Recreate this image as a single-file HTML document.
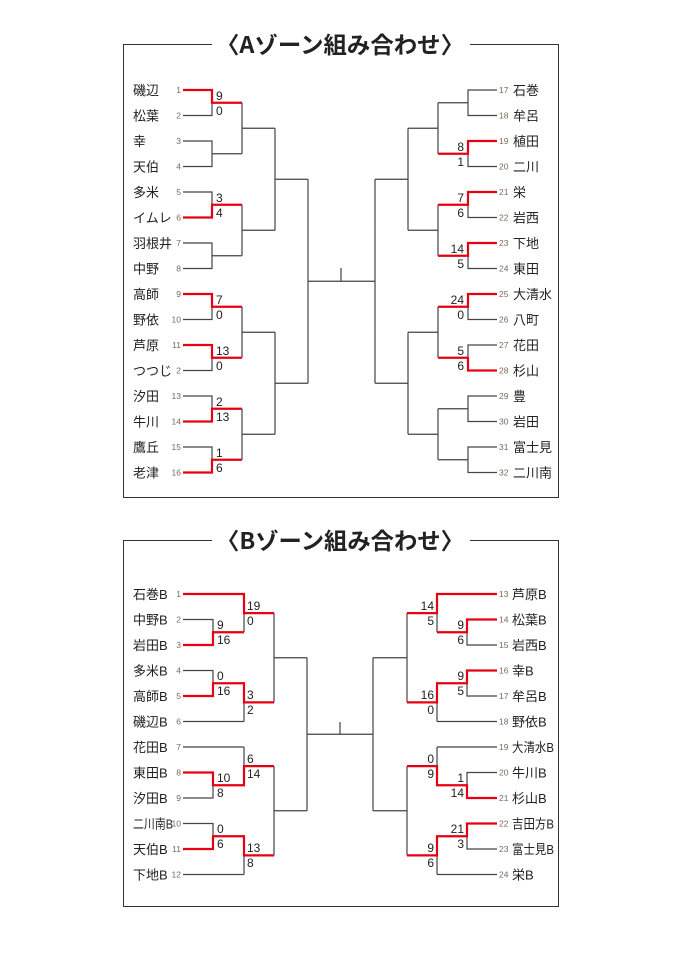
<!DOCTYPE html>
<html><head><meta charset="utf-8"><style>
html,body{margin:0;padding:0;background:#fff;}
svg{display:block;}
text{font-family:"Liberation Sans","Noto Sans CJK JP",sans-serif;}
.n{font-size:13px;fill:#222;}
.k{font-size:8.5px;fill:#7a6a5a;font-family:"Liberation Serif",serif;}
.s{font-size:12px;fill:#222;}
.t{font-size:23px;font-weight:bold;fill:#222;font-family:"Noto Sans CJK JP",sans-serif;}
.b{fill:none;stroke:#444;stroke-width:1.2;}
.r{fill:none;stroke:#e60012;stroke-width:2.2;}
</style></head><body>
<svg width="682" height="954" viewBox="0 0 682 954" xmlns="http://www.w3.org/2000/svg">
<rect x="123.5" y="44.5" width="435" height="453" fill="none" stroke="#333" stroke-width="1"/>
<rect x="212" y="30" width="258" height="30" fill="#fff"/>
<text class="t" x="340" y="53" text-anchor="middle" textLength="248" lengthAdjust="spacingAndGlyphs">〈Aゾーン組み合わせ〉</text>
<rect x="123.5" y="540.5" width="435" height="366" fill="none" stroke="#333" stroke-width="1"/>
<rect x="212" y="526" width="258" height="30" fill="#fff"/>
<text class="t" x="340" y="549" text-anchor="middle" textLength="248" lengthAdjust="spacingAndGlyphs">〈Bゾーン組み合わせ〉</text>

<path class="b" d="M183 90H212V115.5H183M212 102.75H242
M183 141H212V166.5H183M212 153.75H242
M183 192H212V217.5H183M212 204.75H242
M183 243H212V268.5H183M212 255.75H242
M183 294H212V319.5H183M212 306.75H242
M183 345H212V370.5H183M212 357.75H242
M183 396H212V421.5H183M212 408.75H242
M183 447H212V472.5H183M212 459.75H242
M242 102.75V153.75M242 128.25H275M242 204.75V255.75M242 230.25H275
M242 306.75V357.75M242 332.25H275M242 408.75V459.75M242 434.25H275
M275 128.25V230.25M275 179.25H308M275 332.25V434.25M275 383.25H308
M308 179.25V383.25M308 281.25H375M375 179.25V383.25M341 268V281.25
M497 90H468V115.5H497M468 102.75H438
M497 141H468V166.5H497M468 153.75H438
M497 192H468V217.5H497M468 204.75H438
M497 243H468V268.5H497M468 255.75H438
M497 294H468V319.5H497M468 306.75H438
M497 345H468V370.5H497M468 357.75H438
M497 396H468V421.5H497M468 408.75H438
M497 447H468V472.5H497M468 459.75H438
M438 102.75V153.75M438 128.25H408M438 204.75V255.75M438 230.25H408
M438 306.75V357.75M438 332.25H408M438 408.75V459.75M438 434.25H408
M408 128.25V230.25M408 179.25H375M408 332.25V434.25M408 383.25H375"/>
<path class="r" d="M183 90H212V102.75H242M183 217.5H212V204.75H242M183 294H212V306.75H242
M183 345H212V357.75H242M183 421.5H212V408.75H242M183 472.5H212V459.75H242
M497 141H468V153.75H438M497 192H468V204.75H438M497 243H468V255.75H438
M497 294H468V306.75H438M497 370.5H468V357.75H438"/>

<g class="n">
<text x="133" y="95">磯辺</text><text x="133" y="120.5">松葉</text><text x="133" y="146">幸</text><text x="133" y="171.5">天伯</text>
<text x="133" y="197">多米</text><text x="133" y="222.5">イムレ</text><text x="133" y="248">羽根井</text><text x="133" y="273.5">中野</text>
<text x="133" y="299">高師</text><text x="133" y="324.5">野依</text><text x="133" y="350">芦原</text><text x="133" y="375.5">つつじ</text>
<text x="133" y="401">汐田</text><text x="133" y="426.5">牛川</text><text x="133" y="452">鷹丘</text><text x="133" y="477.5">老津</text>
<text x="513" y="95">石巻</text><text x="513" y="120.5">牟呂</text><text x="513" y="146">植田</text><text x="513" y="171.5">二川</text>
<text x="513" y="197">栄</text><text x="513" y="222.5">岩西</text><text x="513" y="248">下地</text><text x="513" y="273.5">東田</text>
<text x="513" y="299">大清水</text><text x="513" y="324.5">八町</text><text x="513" y="350">花田</text><text x="513" y="375.5">杉山</text>
<text x="513" y="401">豊</text><text x="513" y="426.5">岩田</text><text x="513" y="452">富士見</text><text x="513" y="477.5">二川南</text>
</g>
<g class="k" text-anchor="end">
<text x="181" y="93">1</text><text x="181" y="118.5">2</text><text x="181" y="144">3</text><text x="181" y="169.5">4</text>
<text x="181" y="195">5</text><text x="181" y="220.5">6</text><text x="181" y="246">7</text><text x="181" y="271.5">8</text>
<text x="181" y="297">9</text><text x="181" y="322.5">10</text><text x="181" y="348">11</text><text x="181" y="373.5">2</text>
<text x="181" y="399">13</text><text x="181" y="424.5">14</text><text x="181" y="450">15</text><text x="181" y="475.5">16</text>
</g>
<g class="k">
<text x="499" y="93">17</text><text x="499" y="118.5">18</text><text x="499" y="144">19</text><text x="499" y="169.5">20</text>
<text x="499" y="195">21</text><text x="499" y="220.5">22</text><text x="499" y="246">23</text><text x="499" y="271.5">24</text>
<text x="499" y="297">25</text><text x="499" y="322.5">26</text><text x="499" y="348">27</text><text x="499" y="373.5">28</text>
<text x="499" y="399">29</text><text x="499" y="424.5">30</text><text x="499" y="450">31</text><text x="499" y="475.5">32</text>
</g>
<g class="s">
<text x="216" y="100">9</text><text x="216" y="115">0</text>
<text x="216" y="202">3</text><text x="216" y="217">4</text>
<text x="216" y="304">7</text><text x="216" y="319">0</text>
<text x="216" y="355">13</text><text x="216" y="370">0</text>
<text x="216" y="406">2</text><text x="216" y="421">13</text>
<text x="216" y="457">1</text><text x="216" y="472">6</text>
</g>
<g class="s" text-anchor="end">
<text x="464" y="151">8</text><text x="464" y="166">1</text>
<text x="464" y="202">7</text><text x="464" y="217">6</text>
<text x="464" y="253">14</text><text x="464" y="268">5</text>
<text x="464" y="304">24</text><text x="464" y="319">0</text>
<text x="464" y="355">5</text><text x="464" y="370">6</text>
</g>

<path class="b" d="M183 594H244V613.1M183 619.5H213V645H183M213 632.25H244M244 594V632.25M244 613.1H274
M183 670.5H213V696H183M213 683.25H244M244 683.25V721.5M183 721.5H244M244 702.4H274
M274 613.1V702.4M274 657.75H307
M183 747H244M183 772.5H213V798H183M213 785.25H244M244 747V785.25M244 766.1H274
M183 823.5H213V849H183M213 836.25H244M244 836.25V874.5M183 874.5H244M244 855.4H274
M274 766.1V855.4M274 810.75H307M307 657.75V810.75M307 734.25H373M340 722V734.25M373 657.75V810.75
M497 594H437M497 619.5H467V645H497M467 632.25H437M437 594V632.25M437 613.1H407
M497 670.5H467V696H497M467 683.25H437M437 683.25V721.5M497 721.5H437M437 702.4H407
M407 613.1V702.4M407 657.75H373
M497 747H437M497 772.5H467V798H497M467 785.25H437M437 747V785.25M437 766.1H407
M497 823.5H467V849H497M467 836.25H437M437 836.25V874.5M497 874.5H437M437 855.4H407
M407 766.1V855.4M407 810.75H373"/>
<path class="r" d="M183 594H244V613.1H274M183 645H213V632.25H244M183 696H213V683.25H244V702.4H274
M183 772.5H213V785.25H244V766.1H274M183 849H213V836.25H244V855.4H274
M497 594H437V613.1H407M497 619.5H467V632.25H437M497 670.5H467V683.25H437V702.4H407
M497 798H467V785.25H437V766.1H407M497 823.5H467V836.25H437V855.4H407"/>
<g class="n">
<text x="133" y="599">石巻B</text><text x="133" y="624.5">中野B</text><text x="133" y="650">岩田B</text><text x="133" y="675.5">多米B</text>
<text x="133" y="701">高師B</text><text x="133" y="726.5">磯辺B</text><text x="133" y="752">花田B</text><text x="133" y="777.5">東田B</text>
<text x="133" y="803">汐田B</text><text x="133" y="828.5" textLength="40" lengthAdjust="spacingAndGlyphs">二川南B</text><text x="133" y="854">天伯B</text><text x="133" y="879.5">下地B</text>
<text x="512" y="599">芦原B</text><text x="512" y="624.5">松葉B</text><text x="512" y="650">岩西B</text><text x="512" y="675.5">幸B</text>
<text x="512" y="701">牟呂B</text><text x="512" y="726.5">野依B</text><text x="512" y="752" textLength="42" lengthAdjust="spacingAndGlyphs">大清水B</text><text x="512" y="777.5">牛川B</text>
<text x="512" y="803">杉山B</text><text x="512" y="828.5" textLength="42" lengthAdjust="spacingAndGlyphs">吉田方B</text><text x="512" y="854" textLength="42" lengthAdjust="spacingAndGlyphs">富士見B</text><text x="512" y="879.5">栄B</text>
</g>
<g class="k" text-anchor="end">
<text x="181" y="597">1</text><text x="181" y="622.5">2</text><text x="181" y="648">3</text><text x="181" y="673.5">4</text>
<text x="181" y="699">5</text><text x="181" y="724.5">6</text><text x="181" y="750">7</text><text x="181" y="775.5">8</text>
<text x="181" y="801">9</text><text x="181" y="826.5">10</text><text x="181" y="852">11</text><text x="181" y="877.5">12</text>
</g>
<g class="k">
<text x="499" y="597">13</text><text x="499" y="622.5">14</text><text x="499" y="648">15</text><text x="499" y="673.5">16</text>
<text x="499" y="699">17</text><text x="499" y="724.5">18</text><text x="499" y="750">19</text><text x="499" y="775.5">20</text>
<text x="499" y="801">21</text><text x="499" y="826.5">22</text><text x="499" y="852">23</text><text x="499" y="877.5">24</text>
</g>
<g class="s">
<text x="247" y="610">19</text><text x="247" y="625">0</text>
<text x="217" y="629">9</text><text x="217" y="644">16</text>
<text x="217" y="680">0</text><text x="217" y="695">16</text>
<text x="247" y="699">3</text><text x="247" y="714">2</text>
<text x="247" y="763">6</text><text x="247" y="778">14</text>
<text x="217" y="782">10</text><text x="217" y="797">8</text>
<text x="217" y="833">0</text><text x="217" y="848">6</text>
<text x="247" y="852">13</text><text x="247" y="867">8</text>
</g>
<g class="s" text-anchor="end">
<text x="434" y="610">14</text><text x="434" y="625">5</text>
<text x="464" y="629">9</text><text x="464" y="644">6</text>
<text x="464" y="680">9</text><text x="464" y="695">5</text>
<text x="434" y="699">16</text><text x="434" y="714">0</text>
<text x="434" y="763">0</text><text x="434" y="778">9</text>
<text x="464" y="782">1</text><text x="464" y="797">14</text>
<text x="464" y="833">21</text><text x="464" y="848">3</text>
<text x="434" y="852">9</text><text x="434" y="867">6</text>
</g>
</svg>
</body></html>
